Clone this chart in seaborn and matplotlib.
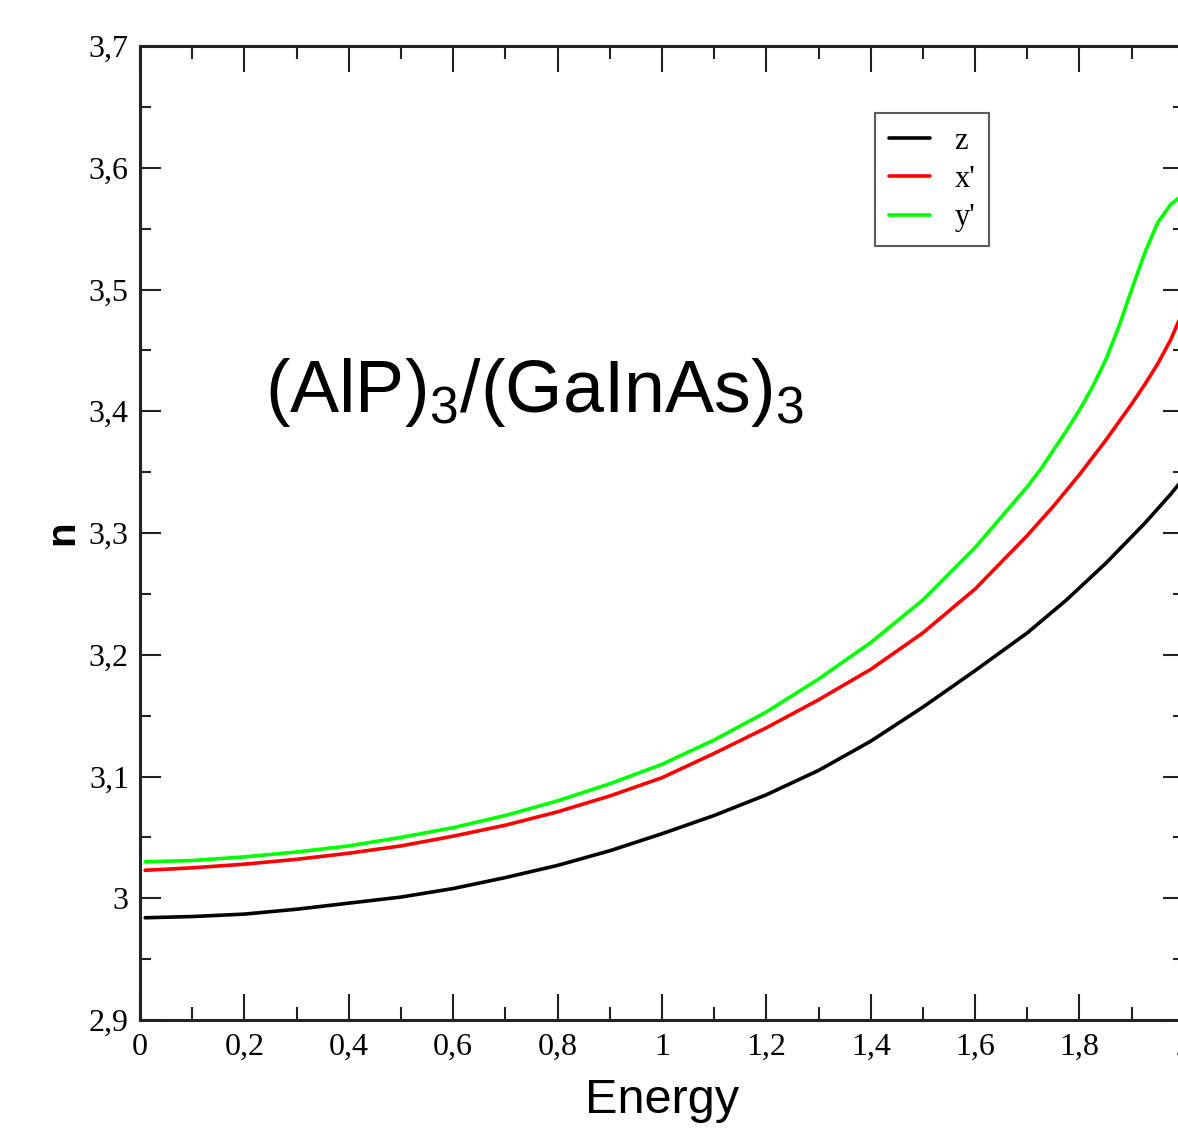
import pandas as pd
import matplotlib
matplotlib.use("Agg")
import matplotlib.pyplot as plt
from matplotlib.ticker import MultipleLocator, FuncFormatter
import seaborn as sns

# values
energy = [0.01, 0.1, 0.2, 0.3, 0.4, 0.5, 0.6, 0.7, 0.8, 0.9, 1.0, 1.1, 1.2, 1.3,
          1.4, 1.5, 1.6, 1.7, 1.725, 1.75, 1.775, 1.8, 1.825, 1.85, 1.875, 1.9,
          1.925, 1.95, 1.975, 1.99]
n_z = [2.984, 2.985, 2.987, 2.991, 2.996, 3.001, 3.008, 3.017, 3.027, 3.039, 3.053,
       3.068, 3.085, 3.105, 3.129, 3.157, 3.187, 3.218, 3.227, 3.236, 3.245, 3.255,
       3.265, 3.275, 3.286, 3.297, 3.308, 3.320, 3.332, 3.340]
n_xp = [3.023, 3.025, 3.028, 3.032, 3.037, 3.043, 3.051, 3.060, 3.071, 3.084, 3.099,
        3.119, 3.140, 3.163, 3.188, 3.218, 3.254, 3.298, 3.310, 3.322, 3.335, 3.348,
        3.362, 3.376, 3.391, 3.406, 3.422, 3.439, 3.459, 3.474]
n_yp = [3.030, 3.031, 3.034, 3.038, 3.043, 3.050, 3.058, 3.068, 3.080, 3.094, 3.110,
        3.130, 3.153, 3.180, 3.210, 3.245, 3.288, 3.338, 3.352, 3.368, 3.384, 3.401,
        3.420, 3.442, 3.469, 3.500, 3.530, 3.555, 3.570, 3.575]
series = ["z", "x'", "y'"]
colors = ["black", "#ff0000", "#00ff00"]

df = pd.concat([
    pd.DataFrame({"Energy": energy, "n": vals, "series": name})
    for name, vals in zip(series, [n_z, n_xp, n_yp])
])

sns.set_style("ticks")
plt.rcParams["font.family"] = ["Liberation Serif", "DejaVu Serif"]
plt.rcParams["text.color"] = "black"
plt.rcParams["axes.labelcolor"] = "black"
plt.rcParams["xtick.color"] = "black"
plt.rcParams["ytick.color"] = "black"

fig = plt.figure(figsize=(11.78, 11.42), dpi=100)
ax = fig.add_axes([0.1188, 0.1068, 0.8862, 0.8529])

sns.lineplot(data=df, x="Energy", y="n", hue="series", hue_order=series,
             palette=dict(zip(series, colors)), linewidth=2.6, ax=ax)

ax.set_xlim(0, 2)
ax.set_ylim(2.9, 3.7)
ax.xaxis.set_major_locator(MultipleLocator(0.2))
ax.xaxis.set_minor_locator(MultipleLocator(0.1))
ax.yaxis.set_major_locator(MultipleLocator(0.1))
ax.yaxis.set_minor_locator(MultipleLocator(0.05))
comma = FuncFormatter(lambda v, _: f"{v:g}".replace(".", ","))
ax.xaxis.set_major_formatter(comma)
ax.yaxis.set_major_formatter(comma)

ax.tick_params(axis="both", which="both", direction="in", top=True, right=True,
               width=1.5, color="#222222", labelsize=23)
ax.tick_params(axis="x", which="major", length=19, pad=9)
ax.tick_params(axis="x", which="minor", length=9.5)
ax.tick_params(axis="y", which="major", length=15, pad=8)
ax.tick_params(axis="y", which="minor", length=8)
for s in ax.spines.values():
    s.set_linewidth(2.2)
    s.set_color("#222222")

ax.set_xlabel("Energy", family=["Liberation Sans", "DejaVu Sans"], fontsize=35)
ax.set_ylabel("n", family=["Liberation Sans", "DejaVu Sans"], fontsize=29, fontweight="bold")
ax.xaxis.set_label_coords(0.5, -0.06)
ax.yaxis.set_label_coords(-0.056, 0.5)

ax.text(0.2395, 3.399, r"$\mathregular{(AlP)_3/(GaInAs)_3}$",
        family=["Liberation Sans", "DejaVu Sans"], fontsize=53,
        va="baseline", ha="left")

handles, labels = ax.get_legend_handles_labels()
leg = ax.legend(handles, labels, loc="upper left", bbox_to_anchor=(0.704, 0.931),
                borderaxespad=0, fontsize=22, handlelength=1.35, handletextpad=0.8,
                labelspacing=0.3, fancybox=False, frameon=True, borderpad=0.45)
leg.get_frame().set_edgecolor("#333333")
leg.get_frame().set_linewidth(1.5)

fig.savefig("out.png", dpi=100)
